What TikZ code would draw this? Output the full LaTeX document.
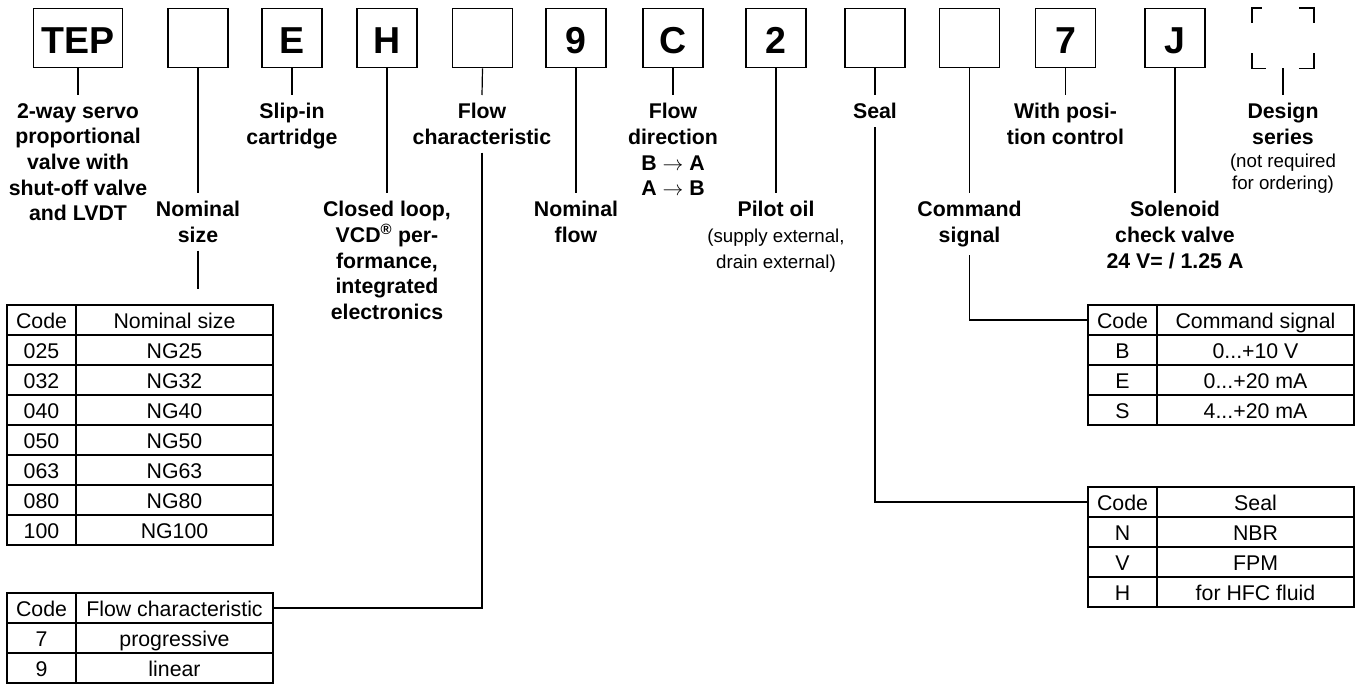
\documentclass[tikz,border=0pt]{standalone}
\usepackage{fontspec}
\setmainfont{Liberation Sans}
\usetikzlibrary{matrix,positioning}
\tikzset{
  codebox/.style={draw, line width=1.6pt, minimum width=60pt, minimum height=59pt, inner sep=0pt, text height=30pt, text depth=0pt, font=\fontsize{37.5}{40}\selectfont\bfseries},
  lbl/.style={align=center, anchor=north, inner xsep=0pt, inner ysep=8pt, font=\fontsize{21.3}{25.7}\selectfont\bfseries},
  note/.style={align=center, inner sep=0pt, font=\fontsize{18.7}{21.7}\selectfont},
  con/.style={line width=1.2pt},
  codetable/.style={matrix of nodes, anchor=north west, inner sep=0pt, outer sep=0pt, row sep=-1.5pt, column sep=-1.5pt,
    nodes={draw, line width=1.5pt, minimum height=30pt, inner sep=0pt, text height=17.5pt, text depth=1.5pt, anchor=center, font=\fontsize{21.3}{25}\selectfont},
    column 1/.style={nodes={minimum width=69pt}},
    column 2/.style={nodes={minimum width=197pt}}}
}
\begin{document}
\begin{tikzpicture}[x=1pt, y=-1pt]
            \useasboundingbox (0,0) rectangle (1359,683);
            % 
            \node[codebox, minimum width=89pt] (tep) at (78,38) {TEP};
            \node[codebox] (size) at (198,38) {};
            \node[codebox] (slip) at (292,38) {E};
            \node[codebox] (loop) at (387,38) {H};
            \node[codebox] (flow) at (482.5,38) {};
            \node[codebox] (nflow) at (576,38) {9};
            \node[codebox] (dir) at (673,38) {C};
            \node[codebox] (pilot) at (776,38) {2};
            \node[codebox] (seal) at (875,38) {};
            \node[codebox] (cmd) at (969.5,38) {};
            \node[codebox] (pos) at (1065.5,38) {7};
            \node[codebox] (sol) at (1175,38) {J};
            \node[codebox, draw=none] (dsg) at (1283,38) {};
            \draw[line width=1.6pt] ([yshift=-15pt]dsg.north west) -- (dsg.north west) -- ++(10,0);
            \draw[line width=1.6pt] ([xshift=-15pt]dsg.north east) -- (dsg.north east) -- ++(0,15);
            \draw[line width=1.6pt] ([yshift=15pt]dsg.south west) -- (dsg.south west) -- ++(14,0);
            \draw[line width=1.6pt] ([xshift=-15pt]dsg.south east) -- (dsg.south east) -- ++(0,-15);
            
            % 
            \node[lbl] (tepL) at (78,95) {2-way servo\\proportional\\valve with\\shut-off valve\\and LVDT};
            \node[lbl] (sizeL) at (198,193) {Nominal\\size};
            \node[lbl] (slipL) at (292,95) {Slip-in\\cartridge};
            \node[lbl] (loopL) at (387,193) {Closed loop,\\VCD\textsuperscript{®} per-\\formance,\\integrated\\electronics};
            \node[lbl] (flowL) at (482,95) {Flow\\characteristic};
            \node[lbl] (nflowL) at (576,193) {Nominal\\flow};
            \node[lbl] (dirL) at (673,95) {Flow\\direction\\B $\rightarrow$ A\\A $\rightarrow$ B};
            \node[lbl] (pilotL) at (776,193) {Pilot oil};
            \node[note, font=\fontsize{18.7}{26}\selectfont, below=4pt of pilotL] (pilotN) {(supply external,\\drain external)};
            \node[lbl] (sealL) at (875,95) {Seal};
            \node[lbl] (cmdL) at (969.5,193) {Command\\signal};
            \node[lbl] (posL) at (1065.5,95) {With posi-\\tion control};
            \node[lbl] (solL) at (1175,193) {Solenoid\\check valve\\24 V= / 1.25 A};
            \node[lbl] (dsgL) at (1283,95) {Design\\series};
            \node[note, below=1pt of dsgL] (dsgN) {(not required\\for ordering)};
            
            % Tables
            \matrix[codetable] (sizeT) at (6.25,304.25) {
              Code & Nominal size \\
              025 & NG25 \\
              032 & NG32 \\
              040 & NG40 \\
              050 & NG50 \\
              063 & NG63 \\
              080 & NG80 \\
              100 & NG100 \\
            };
            \matrix[codetable] (flowT) at (6.25,592.25) {
              Code & Flow characteristic \\
              7 & progressive \\
              9 & linear \\
            };
            \matrix[codetable] (cmdT) at (1087.25,304.25) {
              Code & Command signal \\
              B & 0...+10 V \\
              E & 0...+20 mA \\
              S & 4...+20 mA \\
            };
            \matrix[codetable] (sealT) at (1087.25,486.25) {
              Code & Seal \\
              N & NBR \\
              V & FPM \\
              H & for HFC fluid \\
            };
            
            % Links
            \draw[con] (tep.south) -- (tepL.north);
            \draw[con] (size.south) -- (sizeL.north);
            \draw[con] (slip.south) -- (slipL.north);
            \draw[con] (loop.south) -- (loopL.north);
            \draw[con] (flow.south) -- (flowL.north);
            \draw[con] (nflow.south) -- (nflowL.north);
            \draw[con] (dir.south) -- (dirL.north);
            \draw[con] (pilot.south) -- (pilotL.north);
            \draw[con] (seal.south) -- (sealL.north);
            \draw[con] (cmd.south) -- (cmdL.north);
            \draw[con] (pos.south) -- (posL.north);
            \draw[con] (sol.south) -- (solL.north);
            \draw[con] (dsg.south) -- (dsgL.north);
            \coordinate (sizeEnd) at (198,289);
            \draw[con] (sizeL.south) -- (sizeEnd);
            \draw[con] (flowL.south) |- (flowT-1-2.east);
            \draw[con] (sealL.south) |- (sealT-1-1.west);
            \draw[con] (cmdL.south) |- (cmdT-1-1.west);

        \end{tikzpicture}
\end{document}
